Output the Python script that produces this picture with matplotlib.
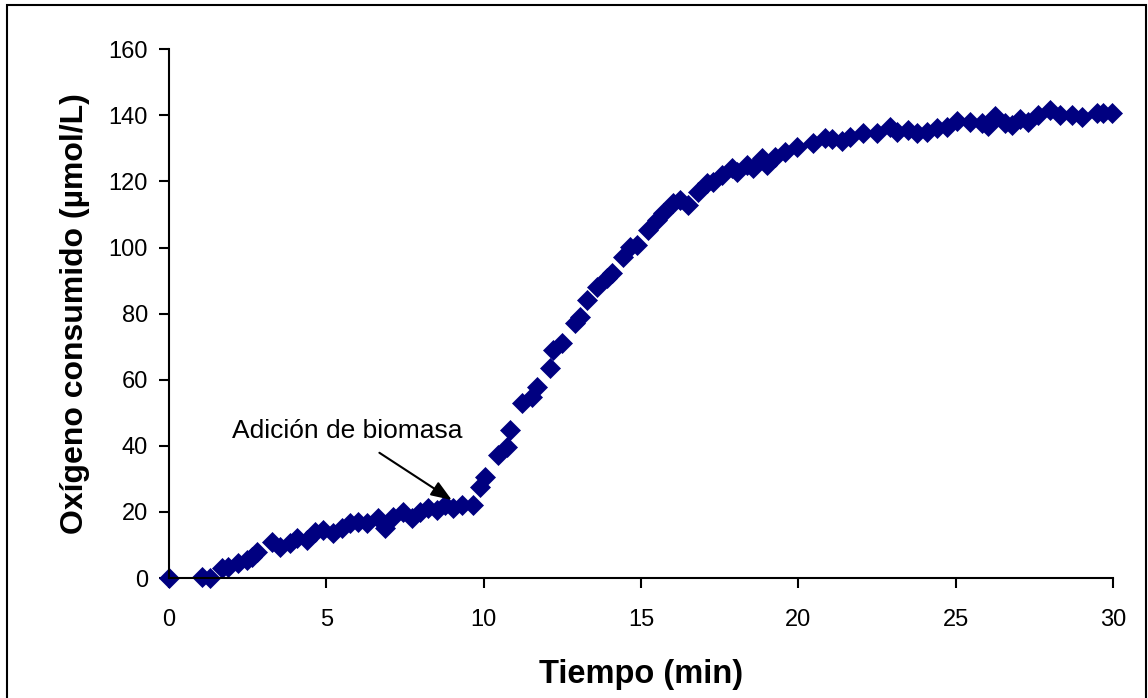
import matplotlib
matplotlib.use("Agg")
import matplotlib.pyplot as plt
from matplotlib.patches import Rectangle

# Data
tiempo = [0.0, 1.05, 1.31, 1.68, 1.89, 2.21, 2.48, 2.65, 2.79, 3.27, 3.53, 3.85, 4.06, 4.38,
          4.65, 4.91, 5.23, 5.49, 5.76, 6.02, 6.29, 6.66, 6.87, 7.13, 7.45, 7.72, 7.98,
          8.24, 8.51, 8.77, 9.04, 9.30, 9.67,
          9.89, 10.04, 10.47, 10.73, 10.84, 11.21, 11.53, 11.69, 12.11, 12.21, 12.48,
          12.90, 13.06, 13.27, 13.59, 13.91, 14.07, 14.44, 14.65, 14.86, 15.23, 15.50,
          15.71, 16.02, 16.24, 16.50, 16.82, 17.08, 17.29, 17.56, 17.88, 18.04, 18.35,
          18.57, 18.83, 18.99, 19.25, 19.57, 19.94, 20.47, 20.84, 21.05, 21.37, 21.64,
          22.06, 22.48, 22.91, 23.12, 23.49, 23.75, 24.07, 24.39, 24.71, 25.02, 25.45,
          25.82, 26.03, 26.24, 26.56, 26.77, 27.03, 27.30, 27.62, 27.99, 28.30, 28.68,
          28.99, 29.47, 29.68, 29.95]
oxigeno = [0.0, 0.4, 0.0, 2.9, 3.4, 4.4, 5.4, 6.5, 8.0, 11.0, 9.5, 10.5, 12.0, 11.5,
           14.0, 14.5, 13.5, 15.0, 16.6, 17.0, 16.6, 18.1, 15.0, 18.6, 20.1, 18.1, 20.1,
           21.1, 20.6, 22.1, 21.1, 22.1, 22.1,
           27.6, 30.7, 37.2, 39.7, 44.8, 52.9, 54.9, 57.9, 63.5, 69.0, 71.0,
           77.1, 79.1, 84.1, 88.2, 90.7, 92.2, 97.2, 100.3, 100.8, 105.3, 108.4,
           110.4, 113.4, 114.4, 112.9, 116.9, 119.5, 119.9, 122.0, 124.0, 123.0, 125.0,
           124.0, 127.0, 125.0, 127.5, 129.0, 130.5, 131.6, 133.1, 132.8, 132.1, 133.6,
           134.8, 134.6, 136.6, 135.1, 135.6, 134.8, 135.1, 136.1, 136.6, 138.4, 138.1,
           137.6, 136.8, 139.8, 137.6, 137.1, 138.8, 138.1, 140.1, 141.6, 140.1, 140.1,
           139.6, 140.6, 140.6, 140.6]

x_ticks = [0, 5, 10, 15, 20, 25, 30]
y_ticks = [0, 20, 40, 60, 80, 100, 120, 140, 160]

anotacion = 'Adición de biomasa'
anot_texto_xy = (2.0, 44.5)
anot_inicio_xy = (6.69, 37.9)
anot_punta_xy = (8.99, 23.6)

plt.rcParams['font.family'] = ['Liberation Sans', 'DejaVu Sans']

fig = plt.figure(figsize=(11.48, 6.98), dpi=100)
ax = fig.add_axes([0.1470, 0.1719, 0.8228, 0.7575])

ax.plot(tiempo, oxigeno, linestyle='none', marker='D', markersize=10,
        color='#000080', markeredgecolor='#000080', markeredgewidth=0.5, clip_on=False)

ax.set_xlim(0, 30)
ax.set_ylim(0, 160)
ax.set_xticks(x_ticks)
ax.set_yticks(y_ticks)
ax.tick_params(axis='both', direction='out', length=7, width=1.5, labelsize=17)
ax.tick_params(axis='x', pad=15.5)
ax.tick_params(axis='y', pad=8)
for s in ['top', 'right']:
    ax.spines[s].set_visible(False)
for s in ['left', 'bottom']:
    ax.spines[s].set_linewidth(1.5)

ax.set_xlabel('Tiempo (min)', fontsize=23.5, fontweight='bold', labelpad=20)
ax.set_ylabel('Oxígeno consumido (µmol/L)', fontsize=23, fontweight='bold', labelpad=13)

ax.text(anot_texto_xy[0], anot_texto_xy[1], anotacion, fontsize=19, ha='left', va='center')
ax.annotate('', xy=anot_punta_xy, xytext=anot_inicio_xy,
            arrowprops=dict(arrowstyle='-|>,head_length=0.45,head_width=0.17',
                            color='black', lw=1.5, mutation_scale=28,
                            shrinkA=0, shrinkB=0))

fig.patches.append(Rectangle((7/1148, -0.05), (1146-7)/1148, 0.9928 + 0.05,
                             transform=fig.transFigure, fill=False,
                             edgecolor='black', linewidth=1.5, clip_on=False))

fig.savefig('out.png', dpi=100)
